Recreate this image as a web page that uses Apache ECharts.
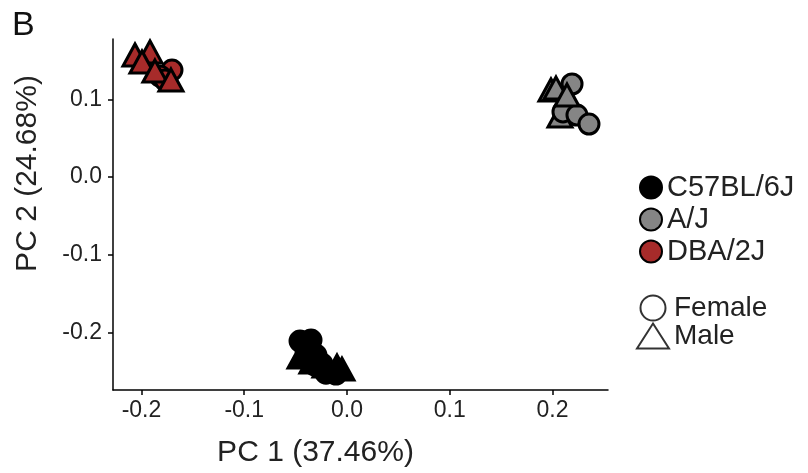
<!DOCTYPE html>
<html>
<head>
<meta charset="utf-8">
<script src="https://cdn.jsdelivr.net/npm/echarts@6/dist/echarts.min.js"></script>
<style>html,body{margin:0;padding:0;background:#fff}#c{width:808px;height:473px}</style>
</head>
<body>
<div id="c"></div>
<script>
// ---- data (PC1, PC2) ----
const strains = ['C57BL/6J', 'A/J', 'DBA/2J'];
const sexes = ['Female', 'Male'];
const xTicks = [-0.2, -0.1, 0.0, 0.1, 0.2];
const yTicks = [-0.2, -0.1, 0.0, 0.1];

const b6Female = [[-0.0457, -0.2111], [-0.035, -0.2098], [-0.0399, -0.2227], [-0.0302, -0.2291], [-0.0311, -0.242], [-0.0243, -0.2407], [-0.0204, -0.2523], [-0.0107, -0.2535]];
const b6Male   = [[-0.0457, -0.2317], [-0.0341, -0.2381], [-0.0214, -0.2432], [-0.0097, -0.2432], [-0.0049, -0.2471]];

const ajFemaleBack  = [[0.219, 0.1197]];
const ajMaleBack    = [[0.2073, 0.0785]];
const ajFemaleFront = [[0.2102, 0.0837], [0.2238, 0.0798], [0.2355, 0.0682]];
const ajMaleFront   = [[0.1985, 0.112], [0.2034, 0.1145], [0.2141, 0.1055]];

const dbaFemale = [[-0.1703, 0.1377], [-0.182, 0.13], [-0.1771, 0.1248]];
const dbaMale   = [[-0.2063, 0.157], [-0.1917, 0.1609], [-0.1995, 0.148], [-0.1869, 0.1364], [-0.1713, 0.1248]];

const colors = {'C57BL/6J': '#000000', 'A/J': '#858585', 'DBA/2J': '#A72B2A'};

const CIRCLE = 20, TRI = [24, 22];
function pts(arr, sym) {
  return arr.map(v => ({value: v, symbol: sym, symbolSize: sym === 'circle' ? CIRCLE : TRI}));
}
const FONT = 'Liberation Sans, Arial, Helvetica, sans-serif';

const chart = echarts.init(document.getElementById('c'), null, {renderer: 'canvas'});
const series = [
  {name: 'C57BL/6J', data: pts(b6Female, 'circle').concat(pts(b6Male, 'triangle'))},
  {name: 'A/J', data: pts(ajFemaleBack, 'circle').concat(pts(ajMaleBack, 'triangle'), pts(ajFemaleFront, 'circle'), pts(ajMaleFront, 'triangle'))},
  {name: 'DBA/2J', data: pts(dbaFemale, 'circle').concat(pts(dbaMale, 'triangle'))}
].map(s => ({
  type: 'scatter', name: s.name, data: s.data,
  itemStyle: {color: colors[s.name], borderColor: '#000', borderWidth: 3, opacity: 1},
  emphasis: {disabled: true}
}));
sexes.forEach(n => series.push({
  type: 'scatter', name: n, data: [],
  itemStyle: {color: '#fff', borderColor: '#000', borderWidth: 3}
}));

chart.setOption({
  animation: false,
  backgroundColor: '#fff',
  title: {text: 'B', left: 7, top: 4, textStyle: {fontFamily: FONT, fontSize: 34, fontWeight: 'normal', color: '#111'}},
  grid: {left: 113, right: 200, top: 39, bottom: 83},
  xAxis: {
    type: 'value', min: -0.2277, max: 0.254,
    name: 'PC 1 (37.46%)', nameLocation: 'middle', nameGap: 48,
    nameTextStyle: {fontFamily: FONT, fontSize: 30, color: '#222', padding: [0, 90, 0, 0]},
    axisLine: {show: true, onZero: false, lineStyle: {color: '#000', width: 1.5}},
    axisTick: {show: true, length: 5, lineStyle: {color: '#000', width: 1.5}, customValues: xTicks},
    axisLabel: {customValues: xTicks, margin: 9, fontFamily: FONT, fontSize: 23, color: '#222', formatter: v => v.toFixed(1)},
    splitLine: {show: false}
  },
  yAxis: {
    type: 'value', min: -0.274, max: 0.1776,
    name: 'PC 2 (24.68%)', nameLocation: 'middle', nameGap: 70,
    nameTextStyle: {fontFamily: FONT, fontSize: 30, color: '#222', padding: [0, 0, 0, 82]},
    axisLine: {show: true, onZero: false, lineStyle: {color: '#000', width: 1.5}},
    axisTick: {show: true, length: 5, lineStyle: {color: '#000', width: 1.5}, customValues: yTicks},
    axisLabel: {customValues: yTicks, margin: 11, fontFamily: FONT, fontSize: 23, color: '#222', formatter: v => v.toFixed(1)},
    splitLine: {show: false}
  },
  legend: [
    {
      data: strains.map(n => ({name: n, icon: 'circle'})),
      orient: 'vertical', left: 634, top: 168, itemWidth: 22, itemHeight: 22, itemGap: 3,
      selectedMode: false,
      textStyle: {fontFamily: FONT, fontSize: 29, lineHeight: 28, color: '#222'}
    },
    {
      data: [{name: 'Female', icon: 'circle'}, {name: 'Male', icon: 'triangle'}],
      orient: 'vertical', left: 631, top: 289, itemWidth: 32, itemHeight: 25, itemGap: 0,
      selectedMode: false,
      textStyle: {fontFamily: FONT, fontSize: 28, lineHeight: 27, color: '#222'}
    }
  ],
  series: series
});
</script>
</body>
</html>
